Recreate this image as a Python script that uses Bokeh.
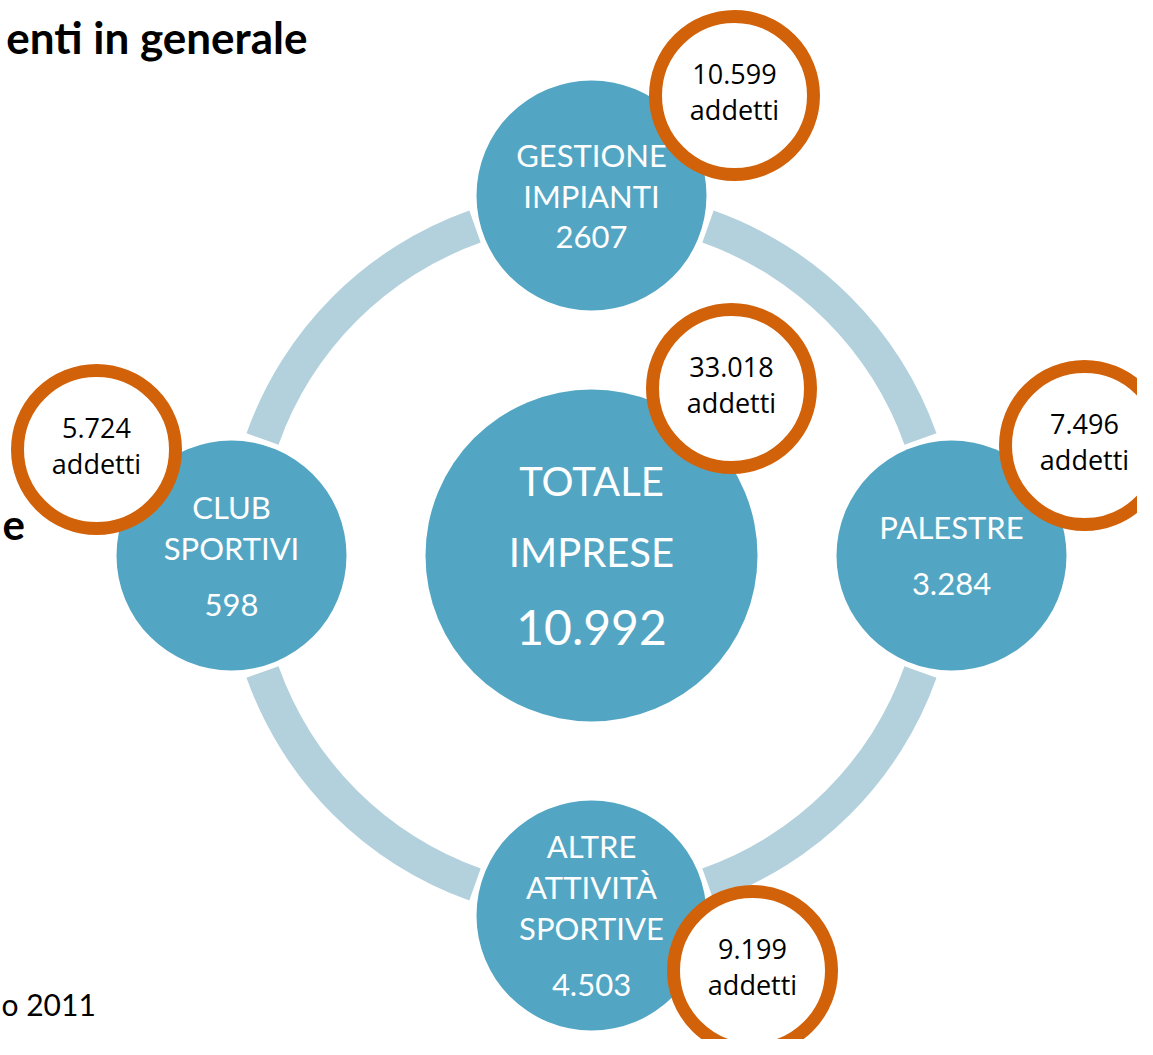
from bokeh.plotting import figure
from bokeh.models import Range1d
from bokeh.embed import file_html
from bokeh.resources import INLINE
from bokeh.core.properties import value
import math

# ---------------- data ----------------
categories = ["GESTIONE\nIMPIANTI", "PALESTRE", "ALTRE\nATTIVITÀ\nSPORTIVE", "CLUB\nSPORTIVI"]
imprese = ["2607", "3.284", "4.503", "598"]
addetti = ["10.599", "7.496", "9.199", "5.724"]
totale_label = ["TOTALE", "IMPRESE"]
totale_imprese = "10.992"
totale_addetti = "33.018"
addetti_word = "addetti"
title_text = "enti in generale"
side_text = "e"
source_text = "o 2011"

# ---------------- layout (reference pixel space, y down) ----------------
H = 1055
W_FIG, H_FIG = 1137, 1039
CX, CY = 591, 555
ORBIT = 360
angles_deg = [90, 0, -90, 180]
num_gap = [41, 57, 57, 57]
LINE = 41
ring_off = [(143, -100), (133, -110), (161, 55), (-135, -106)]
center_ring_off = (140, -167)
SAT_R = 115
CENTER_R = 166
RING_R = 79
GAP = 19.5

BLUE = "#53A6C3"
ARC = "#B3D1DD"
ORANGE = "#D2620A"


def fy(y):
    return H - y


p = figure(width=W_FIG, height=H_FIG, output_backend="svg", toolbar_location=None,
           x_range=Range1d(0, W_FIG), y_range=Range1d(fy(H_FIG), fy(0)),
           min_border=0)
p.axis.visible = False
p.grid.visible = False
p.outline_line_color = None
p.background_fill_color = "white"
p.border_fill_color = "white"

# ring arcs between satellites
starts, ends = [], []
for a in [0, 90, 180, 270]:
    starts.append(math.radians(a + GAP))
    ends.append(math.radians(a + 90 - GAP))
p.annular_wedge(x=[CX] * 4, y=[fy(CY)] * 4, inner_radius=332, outer_radius=366,
                start_angle=starts, end_angle=ends, fill_color=ARC, line_color=None)

# satellite positions
sx = [CX + ORBIT * math.cos(math.radians(a)) for a in angles_deg]
sy = [CY - ORBIT * math.sin(math.radians(a)) for a in angles_deg]

p.circle(x=sx, y=[fy(v) for v in sy], radius=SAT_R, fill_color=BLUE, line_color=None)
p.circle(x=[CX], y=[fy(CY)], radius=CENTER_R, fill_color=BLUE, line_color=None)

# satellite texts
tx, ty, tt = [], [], []
for i, cat in enumerate(categories):
    lines = cat.split("\n")
    ys = [k * LINE for k in range(len(lines))]
    ys.append(ys[-1] + num_gap[i])
    span = ys[-1]
    for t, yy in zip(lines + [imprese[i]], ys):
        tx.append(sx[i])
        ty.append(fy(sy[i] - span / 2 + yy))
        tt.append(t)
p.text(x=tx, y=ty, text=tt, text_align="center", text_baseline="middle",
       text_color="white", text_font=value("Lato"), text_font_size="31px")

# center texts
p.text(x=[CX, CX], y=[fy(CY - 75), fy(CY - 4)], text=totale_label,
       text_align="center", text_baseline="middle", text_color="white",
       text_font=value("Lato"), text_font_size="40px")
p.text(x=[CX], y=[fy(CY + 72)], text=[totale_imprese],
       text_align="center", text_baseline="middle", text_color="white",
       text_font=value("Lato"), text_font_size="48px")

# orange rings
rx = [sx[i] + ring_off[i][0] for i in range(4)] + [CX + center_ring_off[0]]
ry = [sy[i] + ring_off[i][1] for i in range(4)] + [CY + center_ring_off[1]]
p.circle(x=rx, y=[fy(v) for v in ry], radius=RING_R, fill_color="white",
         line_color=ORANGE, line_width=13)
vals = addetti + [totale_addetti]
ox, oy, ot = [], [], []
for i in range(5):
    ox += [rx[i], rx[i]]
    oy += [fy(ry[i] - 22), fy(ry[i] + 14)]
    ot += [vals[i], addetti_word]
p.text(x=ox, y=oy, text=ot, text_align="center", text_baseline="middle",
       text_color="black", text_font=value("Open Sans"), text_font_size="27px")

# outside texts
p.text(x=[307], y=[fy(36)], text=[title_text], text_align="right", text_baseline="middle",
       text_color="black", text_font=value("Lato"), text_font_style="bold",
       text_font_size="44px")
p.text(x=[2], y=[fy(524)], text=[side_text], text_align="left", text_baseline="middle",
       text_color="black", text_font=value("Lato"), text_font_style="bold",
       text_font_size="42px")
p.text(x=[1], y=[fy(1003)], text=[source_text], text_align="left", text_baseline="middle",
       text_color="black", text_font=value("Lato"), text_font_size="30px")

open("out.html", "w").write(file_html(p, INLINE))
